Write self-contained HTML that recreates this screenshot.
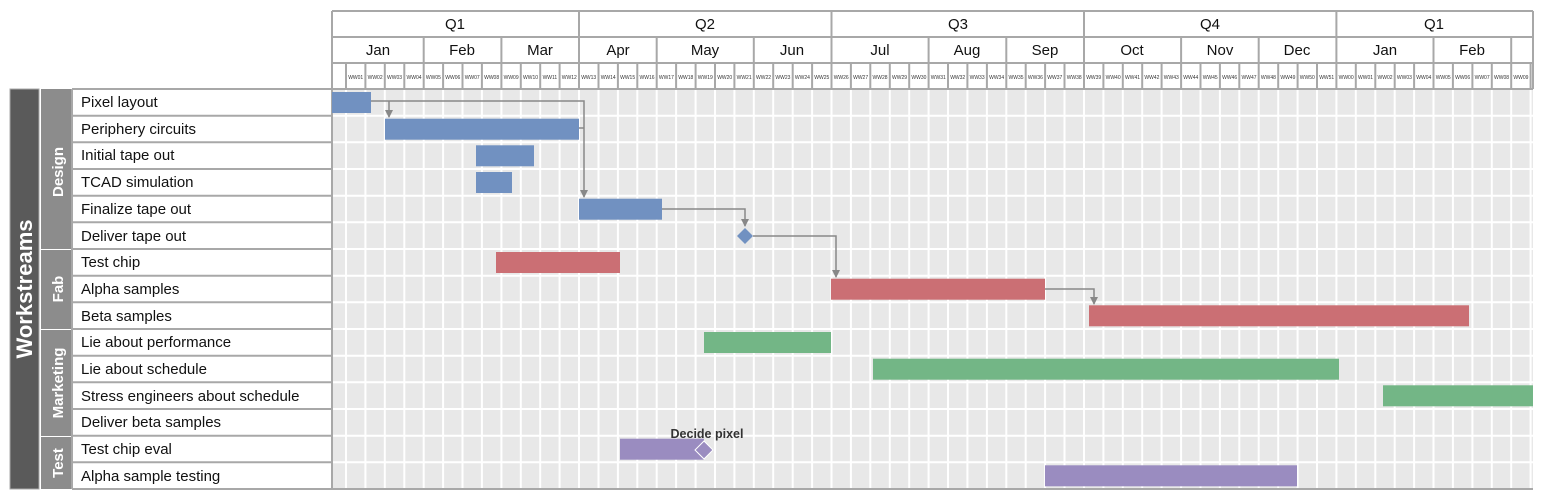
<!DOCTYPE html>
<html><head><meta charset="utf-8"><style>
html,body{margin:0;padding:0;background:#fff;width:1544px;height:501px;overflow:hidden}
svg{display:block;font-family:"Liberation Sans",Arial,sans-serif}
.wk{font-size:5px;fill:#333;text-anchor:middle}
.hd{font-size:15px;fill:#111;text-anchor:middle}
.lb{font-size:15px;fill:#111}
</style></head><body>
<svg width="1544" height="501" viewBox="0 0 1544 501" xmlns="http://www.w3.org/2000/svg">
<defs><marker id="ar" markerWidth="9" markerHeight="9" refX="7" refY="4" orient="auto" markerUnits="userSpaceOnUse"><path d="M0,0 L8,4 L0,8 z" fill="#888"/></marker></defs>
<!-- body grid -->
<rect x="332" y="89" width="1201" height="400" fill="#e8e8e8"/>
<path stroke="#fff" stroke-width="2" fill="none" d="M346 89V489M365.4 89V489M384.8 89V489M404.3 89V489M423.7 89V489M443.1 89V489M462.5 89V489M481.9 89V489M501.4 89V489M520.8 89V489M540.2 89V489M559.6 89V489M579 89V489M598.5 89V489M617.9 89V489M637.3 89V489M656.7 89V489M676.1 89V489M695.6 89V489M715 89V489M734.4 89V489M753.8 89V489M773.2 89V489M792.7 89V489M812.1 89V489M831.5 89V489M850.9 89V489M870.3 89V489M889.8 89V489M909.2 89V489M928.6 89V489M948 89V489M967.4 89V489M986.9 89V489M1006.3 89V489M1025.7 89V489M1045.1 89V489M1064.5 89V489M1084 89V489M1103.4 89V489M1122.8 89V489M1142.2 89V489M1161.6 89V489M1181.1 89V489M1200.5 89V489M1219.9 89V489M1239.3 89V489M1258.7 89V489M1278.2 89V489M1297.6 89V489M1317 89V489M1336.4 89V489M1355.8 89V489M1375.3 89V489M1394.7 89V489M1414.1 89V489M1433.5 89V489M1452.9 89V489M1472.4 89V489M1491.8 89V489M1511.2 89V489M1530.6 89V489
M332 115.7H1533M332 142.3H1533M332 169H1533M332 195.7H1533M332 222.3H1533M332 249H1533M332 275.7H1533M332 302.3H1533M332 329H1533M332 355.7H1533M332 382.3H1533M332 409H1533M332 435.7H1533M332 462.3H1533"/>
<!-- header -->
<path stroke="#a8a8a8" stroke-width="2" fill="none" d="M332 11H1533M332 37H1533M332 63H1533M332 89H1533M332 11V489M1533 11V89M332 489H1533
M579 11V63M831.5 11V63M1084 11V63M1336.4 11V63
M423.7 37V63M501.4 37V63M656.7 37V63M753.8 37V63M928.6 37V63M1006.3 37V63M1181.1 37V63M1258.7 37V63M1433.5 37V63M1511.2 37V63
M346 63V89M365.4 63V89M384.8 63V89M404.3 63V89M423.7 63V89M443.1 63V89M462.5 63V89M481.9 63V89M501.4 63V89M520.8 63V89M540.2 63V89M559.6 63V89M579 63V89M598.5 63V89M617.9 63V89M637.3 63V89M656.7 63V89M676.1 63V89M695.6 63V89M715 63V89M734.4 63V89M753.8 63V89M773.2 63V89M792.7 63V89M812.1 63V89M831.5 63V89M850.9 63V89M870.3 63V89M889.8 63V89M909.2 63V89M928.6 63V89M948 63V89M967.4 63V89M986.9 63V89M1006.3 63V89M1025.7 63V89M1045.1 63V89M1064.5 63V89M1084 63V89M1103.4 63V89M1122.8 63V89M1142.2 63V89M1161.6 63V89M1181.1 63V89M1200.5 63V89M1219.9 63V89M1239.3 63V89M1258.7 63V89M1278.2 63V89M1297.6 63V89M1317 63V89M1336.4 63V89M1355.8 63V89M1375.3 63V89M1394.7 63V89M1414.1 63V89M1433.5 63V89M1452.9 63V89M1472.4 63V89M1491.8 63V89M1511.2 63V89M1530.6 63V89"/>
<text class="hd" x="455" y="29">Q1</text><text class="hd" x="705" y="29">Q2</text><text class="hd" x="958" y="29">Q3</text><text class="hd" x="1210" y="29">Q4</text><text class="hd" x="1434" y="29">Q1</text>
<text class="hd" x="378" y="55">Jan</text><text class="hd" x="462" y="55">Feb</text><text class="hd" x="540" y="55">Mar</text><text class="hd" x="618" y="55">Apr</text><text class="hd" x="705" y="55">May</text><text class="hd" x="792" y="55">Jun</text><text class="hd" x="880" y="55">Jul</text><text class="hd" x="967" y="55">Aug</text><text class="hd" x="1045" y="55">Sep</text><text class="hd" x="1132" y="55">Oct</text><text class="hd" x="1220" y="55">Nov</text><text class="hd" x="1297" y="55">Dec</text><text class="hd" x="1385" y="55">Jan</text><text class="hd" x="1472" y="55">Feb</text>
<g class="wk">
<text x="355.7" y="79">WW01</text><text x="375.1" y="79">WW02</text><text x="394.5" y="79">WW03</text><text x="414" y="79">WW04</text><text x="433.4" y="79">WW05</text><text x="452.8" y="79">WW06</text><text x="472.2" y="79">WW07</text><text x="491.6" y="79">WW08</text><text x="511.1" y="79">WW09</text><text x="530.5" y="79">WW10</text><text x="549.9" y="79">WW11</text><text x="569.3" y="79">WW12</text><text x="588.7" y="79">WW13</text><text x="608.2" y="79">WW14</text><text x="627.6" y="79">WW15</text><text x="647" y="79">WW16</text><text x="666.4" y="79">WW17</text><text x="685.8" y="79">WW18</text><text x="705.3" y="79">WW19</text><text x="724.7" y="79">WW20</text><text x="744.1" y="79">WW21</text><text x="763.5" y="79">WW22</text><text x="782.9" y="79">WW23</text><text x="802.4" y="79">WW24</text><text x="821.8" y="79">WW25</text><text x="841.2" y="79">WW26</text><text x="860.6" y="79">WW27</text><text x="880" y="79">WW28</text><text x="899.5" y="79">WW29</text><text x="918.9" y="79">WW30</text><text x="938.3" y="79">WW31</text><text x="957.7" y="79">WW32</text><text x="977.1" y="79">WW33</text><text x="996.6" y="79">WW34</text><text x="1016" y="79">WW35</text><text x="1035.4" y="79">WW36</text><text x="1054.8" y="79">WW37</text><text x="1074.2" y="79">WW38</text><text x="1093.7" y="79">WW39</text><text x="1113.1" y="79">WW40</text><text x="1132.5" y="79">WW41</text><text x="1151.9" y="79">WW42</text><text x="1171.3" y="79">WW43</text><text x="1190.8" y="79">WW44</text><text x="1210.2" y="79">WW45</text><text x="1229.6" y="79">WW46</text><text x="1249" y="79">WW47</text><text x="1268.4" y="79">WW48</text><text x="1287.9" y="79">WW49</text><text x="1307.3" y="79">WW50</text><text x="1326.7" y="79">WW51</text><text x="1346.1" y="79">WW00</text><text x="1365.5" y="79">WW01</text><text x="1385" y="79">WW02</text><text x="1404.4" y="79">WW03</text><text x="1423.8" y="79">WW04</text><text x="1443.2" y="79">WW05</text><text x="1462.6" y="79">WW06</text><text x="1482.1" y="79">WW07</text><text x="1501.5" y="79">WW08</text><text x="1520.9" y="79">WW09</text>
</g>
<!-- left panel -->
<rect x="10" y="89" width="29" height="400" fill="#5a5a5a" stroke="#a8a8a8" stroke-width="1"/>
<rect x="41" y="89" width="30" height="160" fill="#8c8c8c"/>
<rect x="41" y="250" width="30" height="79" fill="#8c8c8c"/>
<rect x="41" y="330" width="30" height="106" fill="#8c8c8c"/>
<rect x="41" y="437" width="30" height="52" fill="#8c8c8c"/>
<text transform="translate(32,289) rotate(-90)" text-anchor="middle" font-size="22" font-weight="bold" fill="#fff">Workstreams</text>
<text transform="translate(63,172) rotate(-90)" text-anchor="middle" font-size="15" font-weight="bold" fill="#fff">Design</text>
<text transform="translate(63,289) rotate(-90)" text-anchor="middle" font-size="15" font-weight="bold" fill="#fff">Fab</text>
<text transform="translate(63,383) rotate(-90)" text-anchor="middle" font-size="15" font-weight="bold" fill="#fff">Marketing</text>
<text transform="translate(63,463) rotate(-90)" text-anchor="middle" font-size="15" font-weight="bold" fill="#fff">Test</text>
<path stroke="#a8a8a8" stroke-width="2" fill="none" d="M72 89H332M72 115.7H332M72 142.3H332M72 169H332M72 195.7H332M72 222.3H332M72 249H332M72 275.7H332M72 302.3H332M72 329H332M72 355.7H332M72 382.3H332M72 409H332M72 435.7H332M72 462.3H332M72 489H332M72 89V489"/>
<g class="lb">
<text x="81" y="107">Pixel layout</text><text x="81" y="134">Periphery circuits</text><text x="81" y="160">Initial tape out</text><text x="81" y="187">TCAD simulation</text><text x="81" y="214">Finalize tape out</text><text x="81" y="241">Deliver tape out</text><text x="81" y="267">Test chip</text><text x="81" y="294">Alpha samples</text><text x="81" y="321">Beta samples</text><text x="81" y="347">Lie about performance</text><text x="81" y="374">Lie about schedule</text><text x="81" y="401">Stress engineers about schedule</text><text x="81" y="427">Deliver beta samples</text><text x="81" y="454">Test chip eval</text><text x="81" y="481">Alpha sample testing</text>
</g>
<!-- bars -->
<g fill="#7191c1">
<rect x="332" y="92" width="39" height="21"/><rect x="385" y="118.7" width="194" height="21"/><rect x="476" y="145.3" width="58" height="21"/><rect x="476" y="172" width="36" height="21"/><rect x="579" y="198.7" width="83" height="21"/>
<path d="M745 228L753 236L745 244L737 236z"/>
</g>
<g fill="#cb6f74"><rect x="496" y="252" width="124" height="21"/><rect x="831" y="278.7" width="214" height="21"/><rect x="1089" y="305.3" width="380" height="21"/></g>
<g fill="#73b686"><rect x="704" y="332" width="127" height="21"/><rect x="873" y="358.7" width="466" height="21"/><rect x="1383" y="385.3" width="150" height="21"/></g>
<g fill="#9a8cc0"><rect x="620" y="438.7" width="84" height="21"/><rect x="1045" y="465.3" width="252" height="21"/>
<path d="M704 441L713 450L704 459L695 450z" stroke="#fff" stroke-width="1"/></g>
<text x="707" y="438" text-anchor="middle" font-size="12.5" font-weight="bold" fill="#333">Decide pixel</text>
<!-- connectors -->
<g stroke="#888" stroke-width="1.5" fill="none">
<path d="M371 101H584V197" marker-end="url(#ar)"/>
<path d="M389 101V117" marker-end="url(#ar)"/>
<path d="M579 128H584"/>
<path d="M662 209H745V226" marker-end="url(#ar)"/>
<path d="M753 236H836V277" marker-end="url(#ar)"/>
<path d="M1045 289H1094V304" marker-end="url(#ar)"/>
</g>
</svg>
</body></html>
